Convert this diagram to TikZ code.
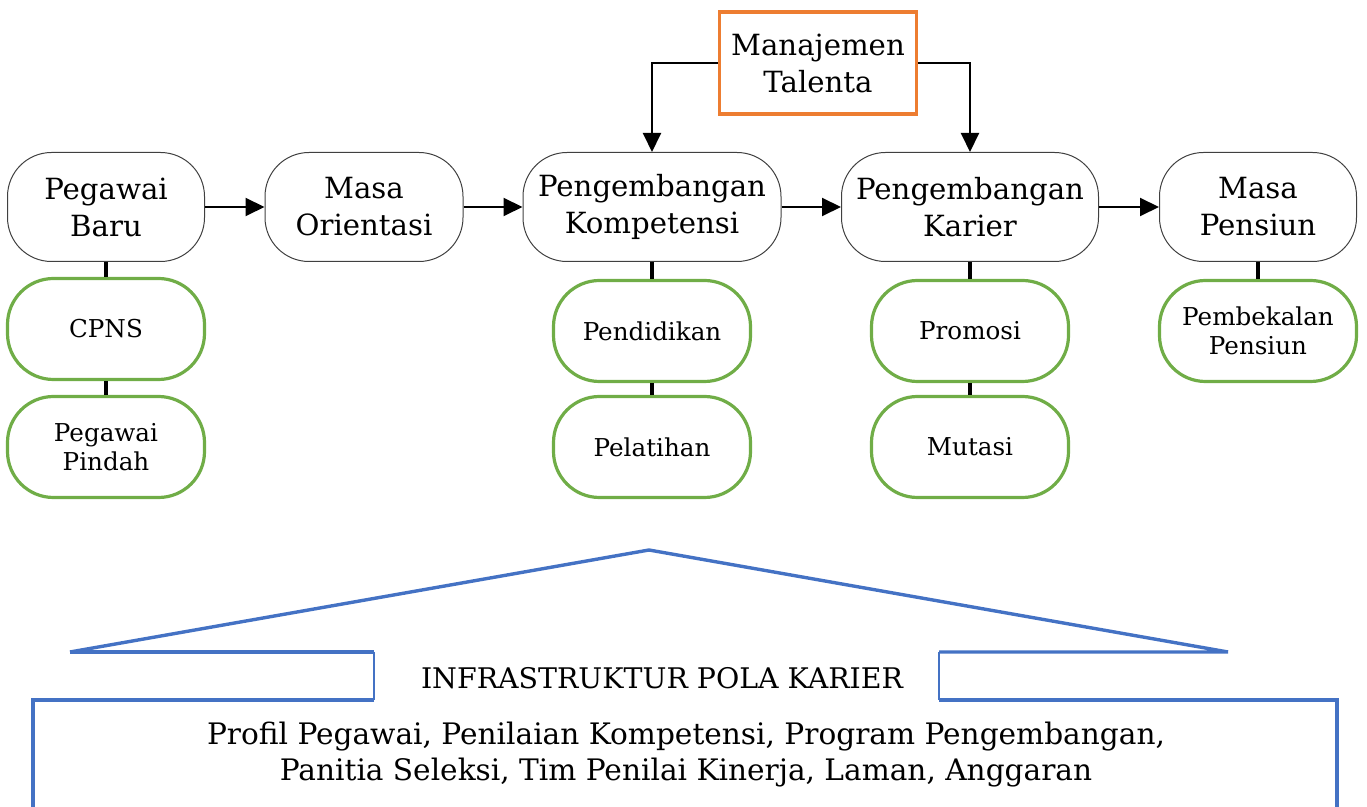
\documentclass[tikz,border=0pt]{standalone}
\usepackage{fontspec}
\setmainfont{DejaVu Serif}
\usetikzlibrary{arrows.meta}
\definecolor{grnc}{HTML}{70AD47}
\definecolor{orgc}{HTML}{ED7D31}
\definecolor{bluc}{HTML}{4472C4}
\tikzset{
  mainbox/.style={draw=black!75, line width=0.5pt, rounded corners=22pt, minimum width=#1, minimum height=54.5pt, inner sep=0pt, align=center, font=\fontsize{14.6}{18.5}\selectfont},
  subbox/.style={draw=grnc, line width=1.6pt, rounded corners=23pt, minimum width=98.5pt, minimum height=50.5pt, inner sep=0pt, align=center, font=\fontsize{12.3}{14.5}\selectfont},
  arr/.style={line width=1pt, -{Triangle[length=9.5pt,width=9pt]}},
  link/.style={line width=1.6pt},
  house/.style={draw=bluc, line width=1.7pt},
  housethin/.style={draw=bluc, line width=0.6pt}
}
\begin{document}
\begin{tikzpicture}[x=0.5pt,y=-0.5pt]
\useasboundingbox (0,0) rectangle (1367,807);
% main nodes
\node[mainbox=98.5pt] (pb) at (106,207) {Pegawai\\Baru};
\node[mainbox=99pt] (mo) at (364,207) {Masa\\Orientasi};
\node[mainbox=129pt] (pk) at (652,207) {Pengembangan\\Kompetensi};
\node[mainbox=128.5pt] (kr) at (970,207) {Pengembangan\\Karier};
\node[mainbox=98.5pt] (mp) at (1258,207) {Masa\\Pensiun};
% top box
\node[draw=orgc, line width=1.6pt, minimum width=98.5pt, minimum height=51pt, inner sep=0pt, align=center, font=\fontsize{14.6}{18.5}\selectfont] (mt) at (818,63) {Manajemen\\Talenta};
% sub nodes
\node[subbox] (cpns) at (106,329) {CPNS};
\node[subbox] (pp) at (106,447) {Pegawai\\Pindah};
\node[subbox] (pend) at (652,331) {Pendidikan};
\node[subbox] (pel) at (652,447) {Pelatihan};
\node[subbox] (prom) at (970,331) {Promosi};
\node[subbox] (mut) at (970,447) {Mutasi};
\node[subbox] (pemb) at (1258,331) {Pembekalan\\Pensiun};
% arrows
\draw[arr] (pb) -- (mo);
\draw[arr] (mo) -- (pk);
\draw[arr] (pk) -- (kr);
\draw[arr] (kr) -- (mp);
\draw[arr] (mt.west) -| (pk.north);
\draw[arr] (mt.east) -| (kr.north);
% links
\draw[link] (pb) -- (cpns);
\draw[link] (cpns) -- (pp);
\draw[link] (pk) -- (pend);
\draw[link] (pend) -- (pel);
\draw[link] (kr) -- (prom);
\draw[link] (prom) -- (mut);
\draw[link] (mp) -- (pemb);
% house
\draw[house] (70,652) -- (649,550) -- (1228,652) -- (939,652);
\draw[house] (70,652) -- (374,652);
\draw[housethin] (374,652) -- (374,700);
\draw[housethin] (939,652) -- (939,700);
\draw[house] (374,700) -- (33,700) -- (33,810);
\draw[house] (939,700) -- (1337,700) -- (1337,810);
\node[font=\fontsize{14.2}{16}\selectfont] (title) at (662,678) {INFRASTRUKTUR POLA KARIER};
\node[align=center, font=\fontsize{14.8}{18}\selectfont] (body) at (686,755) {Profil Pegawai, Penilaian Kompetensi, Program Pengembangan,\\Panitia Seleksi, Tim Penilai Kinerja, Laman, Anggaran};
\end{tikzpicture}
\end{document}
